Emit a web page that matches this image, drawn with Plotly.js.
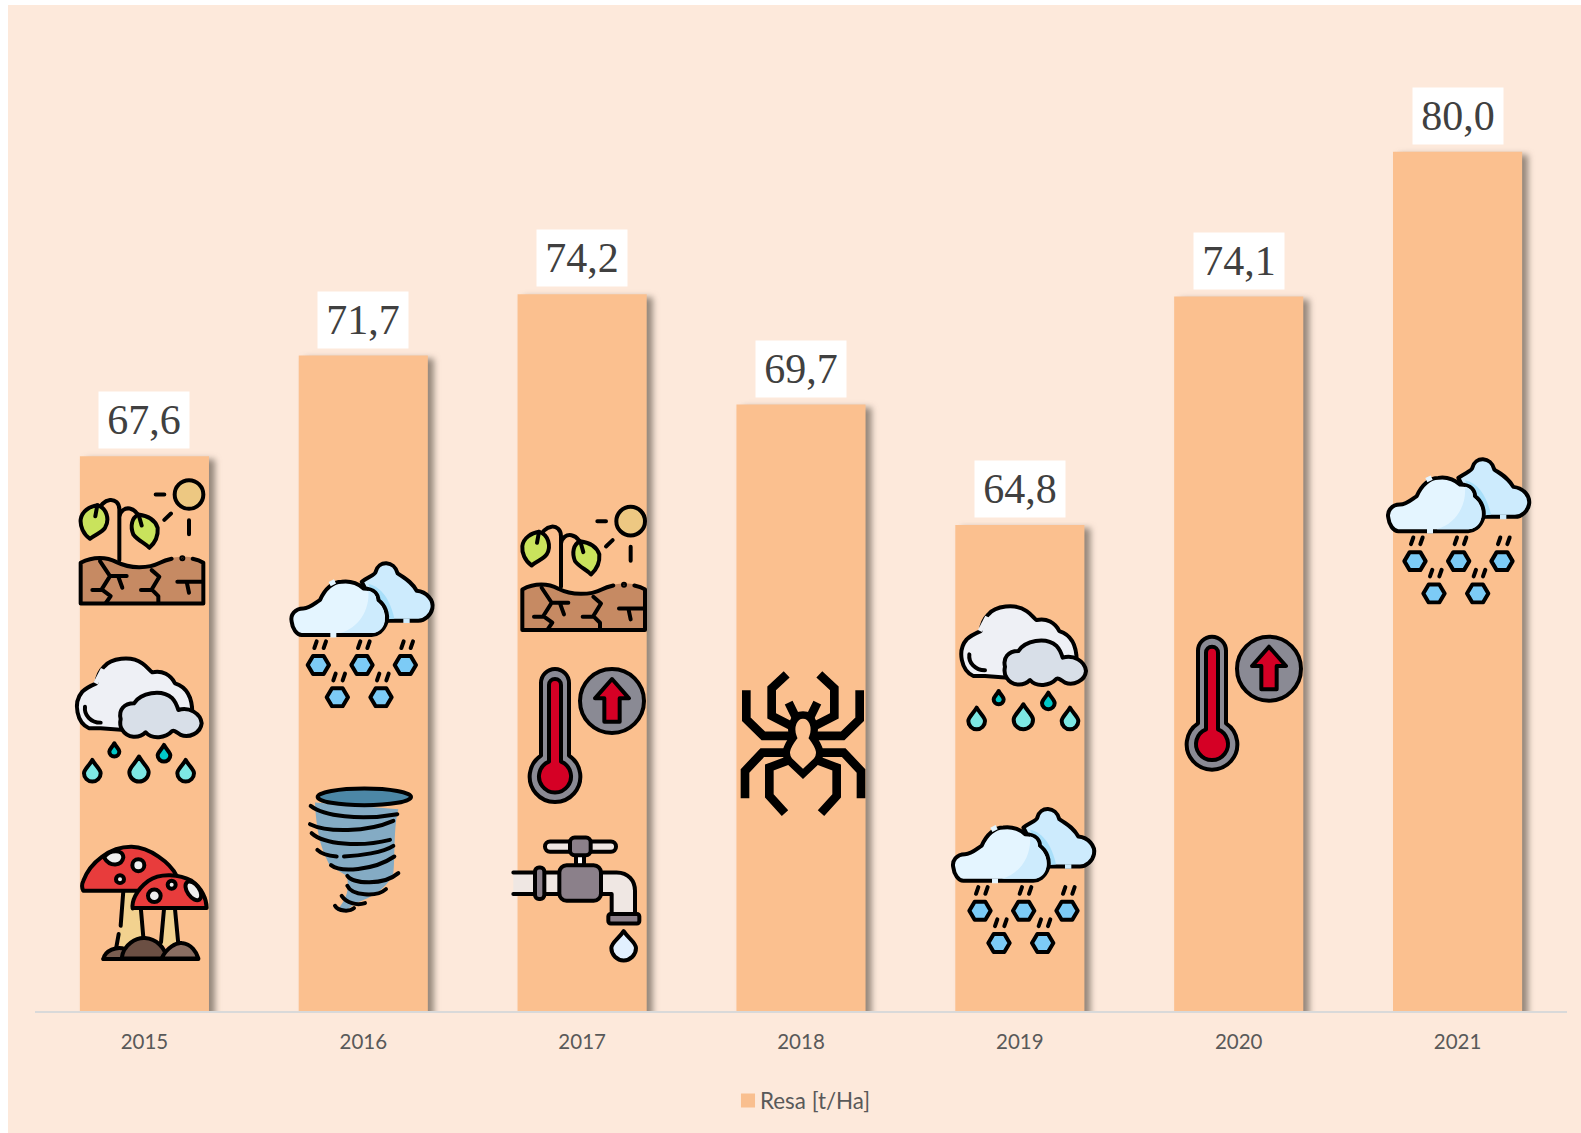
<!DOCTYPE html>
<html>
<head>
<meta charset="utf-8">
<script src="https://cdn.plot.ly/plotly-3.0.1.min.js"></script>
<style>
html,body{margin:0;padding:0;background:#fff;width:1581px;height:1133px;overflow:hidden}
#chart{position:absolute;left:8px;top:5px;width:1573px;height:1128px}
</style>
</head>
<body>
<div id="chart"></div>
<script>
const years = ['2015','2016','2017','2018','2019','2020','2021'];
const yields = [67.6,71.7,74.2,69.7,64.8,74.1,80.0];
const seriesName = 'Resa [t/Ha]';
const BG = '#FDE9DB', BAR = '#FBC08F', TXT = '#595959', SANS = 'Lato, sans-serif';

/* Page-pixel to paper-coordinate helpers for the decorative pictograms */
const PL = 35, PR = 1567, PT = 29, PB = 1012;
const pxX = X => (X - PL) / (PR - PL);
const pxY = Y => (PB - Y) / (PB - PT);

const k = 'stroke="#000" stroke-width="12" stroke-linecap="round" stroke-linejoin="round"';
const drop = (cx, top, bot, hw, fill) => {
  const r = hw, cy = bot - r;
  return `<path d="M${cx},${top} C${cx+hw*0.4},${top+(cy-top)*0.45} ${cx+hw},${cy-r*0.45} ${cx+hw},${cy} A${r},${r} 0 1 1 ${cx-hw},${cy} C${cx-hw},${cy-r*0.45} ${cx-hw*0.4},${top+(cy-top)*0.45} ${cx},${top}Z" fill="${fill}" ${k}/>`;
};
const hex = (cx, cy) => `<path d="M${cx-32},${cy} L${cx-16},${cy-27} H${cx+16} L${cx+32},${cy} L${cx+16},${cy+27} H${cx-16}Z" fill="#7CCBF6" ${k}/>
 <path d="M${cx-5},${cy-71} l-7,20 M${cx+23},${cy-71} l-7,20" fill="none" ${k}/>`;

const ICONS = {
 drought: {vb:[50,110,400,400], body:`
  <path d="M62,492 V370 C100,350 140,352 170,368 C210,388 265,388 300,370 C330,355 350,352 370,352 C395,352 415,358 430,370 V492Z" fill="#C68A63"/>
  <path d="M62,492 V370 C100,350 140,352 170,368 C210,388 265,388 300,370 C312,364 322,361 335,358 M398,358 C412,361 422,365 430,370 V492 H62" fill="none" ${k}/>
  <circle cx="367" cy="356" r="3" fill="#000" ${k}/>
  <path d="M120,365 L150,410 L125,450 L152,470 L138,490 M150,410 H200 M175,412 L187,445 M125,452 H97 M275,392 L298,412 L275,450 L295,470 V490 M275,452 H243 M352,427 H428 M380,427 L387,460" fill="none" ${k}/>
  <path d="M178,362 V210 C178,170 125,170 112,222 M178,232 C185,195 232,195 245,255" fill="none" ${k}/>
  <path d="M112,197 C140,205 150,240 135,265 C125,280 105,285 90,298 C70,285 60,260 62,240 C65,215 90,200 112,197Z" fill="#C9E35C" ${k}/>
  <path d="M235,225 C215,235 210,260 220,285 C235,305 255,310 268,325 C285,310 295,290 293,265 C285,240 260,228 235,225Z" fill="#C9E35C" ${k}/>
  <path d="M112,197 L106,230 M236,226 L245,258" fill="none" ${k}/>
  <circle cx="387" cy="165" r="43" fill="#EDC882" ${k}/>
  <path d="M287,165 H313 M313,241 L333,222 M387,242 V284" fill="none" ${k}/>`},
 rain: {vb:[80,35,400,400], body:`
  <path d="M165,260 H130 C95,245 80,185 110,150 C120,140 140,130 152,125 C155,100 165,85 175,75 C195,50 255,40 290,65 C305,75 315,90 320,92 C350,85 375,100 388,125 C420,135 440,165 440,215 L300,270Z" fill="#EEF0F5" ${k}/>
  <path d="M150,125 L172,82" stroke="#EEF0F5" stroke-width="14"/>
  <path d="M118,195 C115,220 135,243 165,243" fill="none" ${k}/>
  <path d="M225,232 C218,205 235,185 265,185 C285,155 345,140 380,170 C390,180 395,195 398,205 C430,195 465,215 468,245 C465,275 430,290 405,280 C390,270 385,265 380,268 C360,290 320,295 300,272 C280,292 245,290 230,265 C225,258 222,245 225,232Z" fill="#D8DFE8" ${k}/>
  ${drop(140,355,420,25,'#7DE8E4')}${drop(280,345,420,29,'#7DE8E4')}${drop(420,355,420,25,'#7DE8E4')}
  ${drop(206,305,345,15,'#00C8C8')}${drop(355,310,360,19,'#00C8C8')}`},
 snow: {vb:[55,645,450,450], body:`
  <path d="M280,715 C300,700 320,695 322,685 C330,650 378,650 388,690 C410,705 430,715 445,742 C475,745 497,770 492,795 C488,815 470,832 450,832 H340Z" fill="#CDEBFD" ${k}/>
  <path d="M405,832 H424" stroke="#CDEBFD" stroke-width="14"/>
  <path d="M300,722 C340,730 365,770 378,825 L340,830Z" fill="#A8DFFA"/>
  <path d="M70,835 C65,815 80,795 105,795 C125,795 145,775 155,770 C170,735 195,715 220,715 C250,710 275,725 285,735 C320,735 330,755 330,770 C350,785 360,810 355,835 C345,865 325,875 310,875 H100 C85,875 72,855 70,835Z" fill="#E4F5FF" ${k}/>
  <path d="M300,742 C305,800 270,855 215,869 H310 C325,869 345,860 349,835 C352,810 343,785 324,773 C324,755 315,745 300,742Z" fill="#CDEBFD"/>
  <path d="M186,875 H204 M184,722 L200,714" stroke="#E4F5FF" stroke-width="14"/>
  ${hex(150,965)}${hex(281,965)}${hex(411,965)}${hex(207,1062)}${hex(338,1062)}`},
 mushroom: {vb:[55,250,400,400], body:`
  <path d="M190,395 L178,540 L185,580 H250 L238,395Z" fill="#F2D28F"/>
  <path d="M190,395 L182,500 M176,525 L168,570 M238,395 L250,535" fill="none" ${k}/>
  <path d="M312,450 L303,560 H355 L345,450Z" fill="#F2D28F"/>
  <path d="M312,450 L303,550 M345,450 L355,555" fill="none" ${k}/>
  <path d="M70,395 C65,385 65,375 70,365 C90,310 150,262 215,263 C270,265 330,310 350,350 L240,395Z" fill="#E83C3C" ${k}/>
  <path d="M130,600 C135,575 170,560 195,570 L195,600Z" fill="#7A5E50" ${k}/>
  <path d="M185,598 C190,555 230,535 255,537 C290,540 315,565 320,598Z" fill="#6B4F43" ${k}/>
  <path d="M305,598 C320,565 350,550 365,552 C395,555 410,580 415,598Z" fill="#8A6E62" ${k}/>
  <path d="M130,600 H415" fill="none" ${k}/>
  <path d="M218,448 C215,430 225,395 265,365 C300,340 360,345 395,365 C425,385 440,420 440,447 H218Z" fill="#E83C3C" ${k}/>
  <path d="M132,295 C150,270 190,270 190,295 C185,322 150,325 132,295Z" fill="#EEE" ${k}/>
  <circle cx="235" cy="318" r="18" fill="#EEE" ${k}/>
  <circle cx="180" cy="360" r="12" fill="#EEE" ${k}/>
  <circle cx="335" cy="377" r="12" fill="#EEE" ${k}/>
  <circle cx="283" cy="410" r="19" fill="#EEE" ${k}/>
  <ellipse cx="400" cy="395" rx="18" ry="32" transform="rotate(-35 400 395)" fill="#EEE" ${k}/>`},
 tornado: {vb:[735,75,400,400], body:`
  <path d="M765,130 L1015,150 C1000,200 1005,320 1000,340 C990,380 930,420 890,430 L850,460 L830,455 C860,420 870,390 860,350 L810,320 C790,280 770,240 765,130Z" fill="#84ABC4"/>
  <ellipse cx="913" cy="113" rx="140" ry="25" fill="#4C87A6" ${k}/>
  <path d="M752,140 C790,170 900,185 1012,165 M750,195 C800,220 920,220 1000,185 M755,222 C790,255 900,265 990,242 M772,272 C785,285 810,290 830,292 M852,292 C900,290 970,280 1000,260 M813,318 C840,340 940,335 1003,292 M862,350 C880,375 970,380 1015,342 M862,380 C875,410 950,415 978,390 M845,410 C860,432 890,440 915,432 M825,440 C835,458 870,458 882,447" fill="none" ${k}/>`},
 tap: {vb:[30,165,400,400], body:`
  <path d="M40,280 H180 V345 H40" fill="#EFE7E3" ${k}/>
  <rect x="105" y="265" width="28" height="95" rx="12" fill="#8B808A" ${k}/>
  <rect x="228" y="225" width="24" height="35" fill="#FFF" ${k}/>
  <path d="M303,280 H350 C385,280 405,305 405,335 V405 H335 V345 H303Z" fill="#EFE7E3" ${k}/>
  <rect x="178" y="258" width="125" height="107" rx="22" fill="#8B808A" ${k}/>
  <rect x="325" y="405" width="93" height="28" rx="7" fill="#8B808A" ${k}/>
  <rect x="135" y="187" width="213" height="31" rx="15" fill="#EFE7E3" ${k}/>
  <rect x="210" y="175" width="62" height="53" rx="14" fill="#8B808A" ${k}/>
  ${drop(371,456,544,37,'#E2F0FF')}`},
 therm: {vb:[755,125,375,435], body:`
  <path d="M804,184 a42,42 0 0 1 84,0 V402 a76,76 0 1 1 -84,0Z" fill="#8A8A94" ${k}/>
  <path d="M828,190 a18,18 0 0 1 36,0 V420 a48,48 0 1 1 -36,0Z" fill="#D50025" ${k}/>
  <circle cx="1017" cy="238" r="96" fill="#8A8A94" ${k}/>
  <path d="M1017,172 L1068,230 H1040 V300 H994 V230 H966Z" fill="#D50025" ${k}/>`},
 spider: {vb:[715,540,390,445], body:`
  <g fill="none" stroke="#000" stroke-width="26" stroke-linejoin="miter" stroke-linecap="butt">
  <path d="M739,603 V690 L790,740 H870 M860,555 L815,597 V680 L878,712 M735,927 V845 L787,790 H860 M860,815 L808,835 V920 L855,972 M866,640 L888,685"/>
  <path d="M1079,603 V690 L1028,740 H948 M958,555 L1003,597 V680 L940,712 M1083,927 V845 L1031,790 H958 M958,815 L1010,835 V920 L963,972 M952,640 L930,685"/>
  <path d="M909,677 C880,677 868,715 880,745 C858,775 852,795 868,815 L909,854 L950,815 C966,795 960,775 938,745 C950,715 938,677 909,677Z" stroke-width="22"/>
  </g>`}
};

const placements = [
 ['drought',76.67,476.67],['rain',72.33,654],['mushroom',78.33,843.33],
 ['snow',286.67,559],['tornado',305,785],
 ['drought',518.33,503.33],['therm',524.67,664],['tap',510,835],
 ['spider',738.33,670],
 ['rain',956.67,601.67],['snow',948.33,805],
 ['therm',1181.67,631.67],
 ['snow',1383.33,455]
];

const images = placements.map(([name,X,Y]) => {
  const ic = ICONS[name], w = ic.vb[2]/3, h = ic.vb[3]/3;
  const svg = `<svg xmlns="http://www.w3.org/2000/svg" width="${w*2}" height="${h*2}" viewBox="${ic.vb.join(' ')}">${ic.body}</svg>`;
  return {source:'data:image/svg+xml;charset=utf-8,'+encodeURIComponent(svg), xref:'paper', yref:'paper',
    x:pxX(X), y:pxY(Y), sizex:w/(PR-PL), sizey:h/(PB-PT), sizing:'stretch', xanchor:'left', yanchor:'top', layer:'above'};
});

const annotations = years.map((yr,i) => ({
  x:i, y:yields[i], xref:'x', yref:'y', text:yields[i].toFixed(1).replace('.',','),
  showarrow:false, xanchor:'center', yanchor:'bottom', yshift:7, width:90, height:56, bgcolor:'#FFFFFF', borderpad:0,
  font:{family:'"Liberation Serif", serif', size:42, color:'#404040'}
}));

const data = [{type:'bar', x:years, y:yields, name:seriesName, width:0.59, cliponaxis:false,
  marker:{color:BAR, line:{width:0}}, showlegend:true, hoverinfo:'x+y'}];

const layout = {
  width:1573, height:1128, margin:{l:27,r:14,t:24,b:121,pad:0}, paper_bgcolor:BG, plot_bgcolor:'rgba(0,0,0,0)',
  xaxis:{type:'category', categoryorder:'array', categoryarray:years, range:[-0.5,6.5], showgrid:false, zeroline:false,
    showline:true, linecolor:'#D9D9D9', linewidth:2, ticks:'', ticklabelstandoff:11, tickfont:{family:SANS,size:20.5,color:TXT}},
  yaxis:{range:[45,85], visible:false, fixedrange:true},
  showlegend:true,
  legend:{orientation:'h', x:pxX(720), xanchor:'left', y:pxY(1101), yanchor:'middle', bgcolor:'rgba(0,0,0,0)',
    font:{family:SANS,size:22.4,color:TXT}, itemclick:false, itemdoubleclick:false},
  annotations, images, bargap:0.41
};

Plotly.newPlot('chart', data, layout, {displayModeBar:false, responsive:false}).then(gd => {
  gd.querySelectorAll('.barlayer .point path').forEach(p => {
    p.style.filter = 'drop-shadow(6px 3px 3px rgba(80,70,60,0.6))';
  });
  gd.querySelectorAll('.legendpoints path').forEach(p => {
    p.setAttribute('transform', 'translate(28,0) scale(1.17)');
    p.style.fill = '#F9BF8F';
  });
});
</script>
</body>
</html>
